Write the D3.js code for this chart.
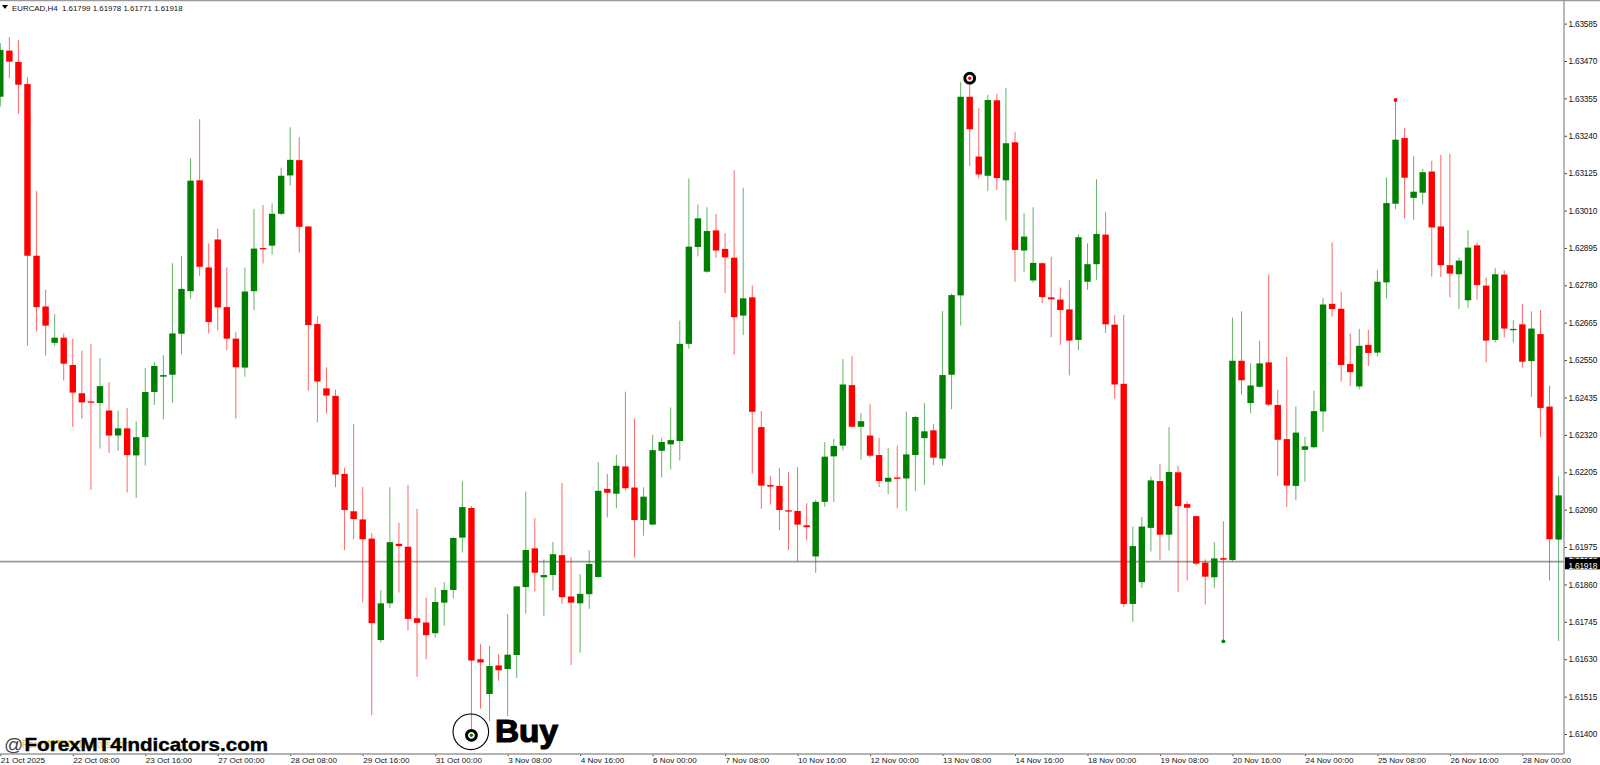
<!DOCTYPE html>
<html>
<head>
<meta charset="utf-8">
<title>EURCAD,H4</title>
<script src="https://cdn.jsdelivr.net/npm/d3@7"></script>
<style>
html, body { margin: 0; padding: 0; background: #fff; overflow: hidden; }
svg { display: block; }
text { font-family: "Liberation Sans", Arial, sans-serif; }
</style>
</head>
<body>
<div id="chart"></div>
<script>
// candles, oldest first
var opens = [
  1.63360,1.63502,1.63467,1.63399,1.62871,1.62715,1.62603,1.62619,1.62535,1.62448,
  1.62423,1.62418,1.62395,1.62318,1.62340,1.62257,1.62313,1.62452,1.62499,1.62505,
  1.62631,1.62762,1.63103,1.62835,1.62921,1.62713,1.62616,1.62527,1.62762,1.62895,
  1.62902,1.63000,1.63118,1.63165,1.62961,1.62661,1.62463,1.62440,1.62200,1.62085,
  1.62060,1.62001,1.61689,1.61802,1.61985,1.61976,1.61756,1.61743,1.61710,1.61804,
  1.61843,1.62004,1.62095,1.61630,1.61523,1.61611,1.61600,1.61643,1.61852,1.61971,
  1.61882,1.61889,1.61950,1.61823,1.61802,1.61830,1.61883,1.62154,1.62139,1.62223,
  1.62158,1.62058,1.62044,1.62271,1.62291,1.62301,1.62600,1.62898,1.62822,1.62949,
  1.62892,1.62865,1.62687,1.62743,1.62344,1.62166,1.62163,1.62088,1.62086,1.62042,
  1.61946,1.62114,1.62254,1.62287,1.62473,1.62345,1.62318,1.62258,1.62176,1.62189,
  1.62186,1.62258,1.62310,1.62334,1.62247,1.62505,1.62749,1.63360,1.63176,1.63117,
  1.63349,1.63103,1.63220,1.62887,1.62795,1.62848,1.62743,1.62736,1.62706,1.62612,
  1.62791,1.62845,1.62936,1.62659,1.62477,1.61800,1.61867,1.62034,1.62178,1.62013,
  1.62205,1.62107,1.62070,1.61927,1.61882,1.61941,1.61935,1.62548,1.62418,1.62468,
  1.62543,1.62412,1.62307,1.62163,1.62274,1.62282,1.62392,1.62723,1.62708,1.62538,
  1.62469,1.62597,1.62573,1.62789,1.63031,1.63233,1.63049,1.63065,1.63130,1.62961,
  1.62842,1.62814,1.62734,1.62903,1.62779,1.62612,1.62813,1.62644,1.62660,1.62547,
  1.62630,1.62407,1.61998
];
var highs = [
  1.63525,1.63543,1.63535,1.63420,1.63070,1.62766,1.62692,1.62632,1.62616,1.62579,
  1.62599,1.62556,1.62482,1.62395,1.62402,1.62362,1.62525,1.62544,1.62565,1.62848,
  1.62870,1.63171,1.63291,1.62909,1.62954,1.62835,1.62637,1.62835,1.63015,1.63027,
  1.63032,1.63142,1.63266,1.63236,1.62962,1.62685,1.62528,1.62459,1.62219,1.62354,
  1.62160,1.62018,1.61842,1.62159,1.62050,1.62166,1.62093,1.61820,1.61851,1.61867,
  1.62005,1.62177,1.62101,1.61676,1.61671,1.61646,1.61769,1.61854,1.62146,1.62064,
  1.61937,1.61991,1.62172,1.61944,1.61892,1.61965,1.62236,1.62200,1.62259,1.62453,
  1.62370,1.62159,1.62320,1.62311,1.62404,1.62671,1.63109,1.63029,1.63020,1.63000,
  1.62940,1.63134,1.63080,1.62780,1.62393,1.62194,1.62218,1.62205,1.62221,1.62110,
  1.62120,1.62297,1.62308,1.62553,1.62563,1.62387,1.62414,1.62311,1.62280,1.62287,
  1.62392,1.62379,1.62418,1.62353,1.62701,1.62755,1.63405,1.63417,1.63325,1.63366,
  1.63369,1.63387,1.63252,1.63002,1.63020,1.62853,1.62868,1.62773,1.62796,1.62937,
  1.62909,1.63106,1.63005,1.62688,1.62689,1.62038,1.62067,1.62192,1.62231,1.62344,
  1.62224,1.62115,1.62071,1.61937,1.61990,1.62054,1.62681,1.62700,1.62540,1.62609,
  1.62813,1.62459,1.62560,1.62407,1.62314,1.62456,1.62741,1.62912,1.62761,1.62632,
  1.62646,1.62643,1.62828,1.63112,1.63350,1.63264,1.63178,1.63138,1.63163,1.63181,
  1.63184,1.62865,1.62950,1.62912,1.62804,1.62833,1.62826,1.62673,1.62722,1.62700,
  1.62704,1.62471,1.62194
];
var lows = [
  1.63330,1.63417,1.63307,1.62595,1.62638,1.62564,1.62594,1.62487,1.62345,1.62370,
  1.62151,1.62278,1.62265,1.62271,1.62143,1.62126,1.62226,1.62412,1.62368,1.62419,
  1.62568,1.62739,1.62809,1.62632,1.62641,1.62580,1.62370,1.62499,1.62704,1.62847,
  1.62874,1.62996,1.63087,1.62881,1.62456,1.62359,1.62386,1.62159,1.61966,1.61999,
  1.61805,1.61458,1.61681,1.61787,1.61835,1.61718,1.61576,1.61630,1.61696,1.61733,
  1.61817,1.61958,1.61403,1.61478,1.61440,1.61564,1.61455,1.61572,1.61770,1.61838,
  1.61763,1.61841,1.61801,1.61612,1.61650,1.61785,1.61880,1.62066,1.62094,1.62149,
  1.61943,1.62010,1.62044,1.62189,1.62213,1.62241,1.62585,1.62869,1.62819,1.62864,
  1.62756,1.62567,1.62627,1.62201,1.62093,1.62106,1.62027,1.61966,1.61930,1.61997,
  1.61896,1.62099,1.62114,1.62272,1.62343,1.62244,1.62250,1.62159,1.62138,1.62094,
  1.62086,1.62147,1.62166,1.62227,1.62226,1.62399,1.62656,1.63147,1.63109,1.63070,
  1.63073,1.62979,1.62791,1.62820,1.62788,1.62725,1.62620,1.62597,1.62503,1.62580,
  1.62766,1.62797,1.62633,1.62431,1.61791,1.61745,1.61850,1.61961,1.61935,1.61964,
  1.61837,1.61872,1.61918,1.61798,1.61849,1.61685,1.61930,1.62444,1.62387,1.62465,
  1.62409,1.62194,1.62099,1.62119,1.62176,1.62278,1.62330,1.62684,1.62484,1.62471,
  1.62460,1.62532,1.62561,1.62740,1.63014,1.62986,1.62982,1.63029,1.62807,1.62805,
  1.62743,1.62708,1.62711,1.62736,1.62543,1.62604,1.62619,1.62604,1.62527,1.62437,
  1.62313,1.61872,1.61686
];
var closes = [
  1.63504,1.63468,1.63397,1.62871,1.62713,1.62656,1.62619,1.62539,1.62450,1.62420,
  1.62419,1.62470,1.62318,1.62340,1.62258,1.62313,1.62452,1.62532,1.62504,1.62632,
  1.62769,1.63102,1.62837,1.62667,1.62712,1.62616,1.62528,1.62761,1.62893,1.62892,
  1.63000,1.63117,1.63166,1.62960,1.62658,1.62484,1.62441,1.62198,1.62089,1.62061,
  1.61999,1.61741,1.61802,1.61990,1.61978,1.61754,1.61742,1.61704,1.61806,1.61843,
  1.62003,1.62098,1.61626,1.61620,1.61609,1.61596,1.61644,1.61854,1.61966,1.61896,
  1.61889,1.61953,1.61821,1.61804,1.61831,1.61923,1.62148,1.62142,1.62225,1.62156,
  1.62058,1.62130,1.62273,1.62298,1.62304,1.62600,1.62899,1.62986,1.62947,1.62887,
  1.62866,1.62682,1.62740,1.62391,1.62164,1.62161,1.62089,1.62086,1.62044,1.62036,
  1.62114,1.62253,1.62286,1.62475,1.62345,1.62362,1.62256,1.62178,1.62188,1.62187,
  1.62260,1.62375,1.62331,1.62250,1.62504,1.62750,1.63360,1.63260,1.63121,1.63350,
  1.63110,1.63217,1.62889,1.62930,1.62849,1.62744,1.62737,1.62704,1.62610,1.62928,
  1.62845,1.62938,1.62660,1.62475,1.61800,1.61978,1.62038,1.62180,1.62013,1.62206,
  1.62101,1.62096,1.61924,1.61884,1.61940,1.61936,1.62548,1.62488,1.62472,1.62540,
  1.62413,1.62305,1.62164,1.62327,1.62285,1.62393,1.62721,1.62707,1.62535,1.62513,
  1.62594,1.62572,1.62791,1.63033,1.63228,1.63111,1.63068,1.63128,1.62958,1.62842,
  1.62816,1.62856,1.62896,1.62781,1.62610,1.62814,1.62647,1.62646,1.62545,1.62647,
  1.62403,1.61999,1.62134
];

var priceTicks = [
  1.61400,1.61515,1.61630,1.61745,1.61860,1.61975,1.62090,1.62205,1.62320,1.62435,
  1.62550,1.62665,1.62780,1.62895,1.63010,1.63125,1.63240,1.63355,1.63470,1.63585
];
var timeLabels = [
  "21 Oct 2025","22 Oct 08:00","23 Oct 16:00","27 Oct 00:00","28 Oct 08:00","29 Oct 16:00",
  "31 Oct 00:00","3 Nov 08:00","4 Nov 16:00","6 Nov 00:00","7 Nov 08:00","10 Nov 16:00",
  "12 Nov 00:00","13 Nov 08:00","14 Nov 16:00","18 Nov 00:00","19 Nov 08:00","20 Nov 16:00",
  "24 Nov 00:00","25 Nov 08:00","26 Nov 16:00","28 Nov 00:00"
];
var labelEvery = 8; // one time label per 8 bars

var header = "EURCAD,H4  1.61799 1.61978 1.61771 1.61918";
var bidLine = 1.61930;
var bidLabel = 1.61918;

// indicator arrows: [bar index, price]
var dots = [[135, 1.61685, "#008000"], [154, 1.63350, "#ff0000"]];
var rings = [[52, 1.61396, "#008000"], [107, 1.63417, "#ff0000"]];

var w = 1600;
var h = 765;
var axisX = 1564;
var axisY = 754;

var green = "#008000";
var red = "#ff0000";
var bodyWidth = 6.4;

var x = d3.scaleLinear().domain([0, opens.length - 1]).range([0.3, 1558.6]);
var y = d3.scaleLinear().domain([1.61400, 1.63585]).range([734, 23.6]);

var svg = d3.select("#chart").append("svg")
    .attr("width", w)
    .attr("height", h);

svg.append("rect")
    .attr("width", w)
    .attr("height", h)
    .attr("fill", "#fff");

// bid line goes under the candles
svg.append("line")
    .attr("x1", 0)
    .attr("x2", axisX)
    .attr("y1", y(bidLine))
    .attr("y2", y(bidLine))
    .attr("stroke", "#999")
    .attr("stroke-width", 1.7);

var candle = svg.append("g")
    .selectAll("g")
    .data(d3.range(opens.length))
    .enter().append("g");

function candleColor(i) {
    return closes[i] >= opens[i] ? green : red;
}

candle.append("line")
    .attr("x1", function(i) { return x(i); })
    .attr("x2", function(i) { return x(i); })
    .attr("y1", function(i) { return y(highs[i]); })
    .attr("y2", function(i) { return y(lows[i]); })
    .attr("stroke", candleColor)
    .attr("stroke-opacity", 0.6)
    .attr("stroke-width", 1);

candle.append("rect")
    .attr("x", function(i) { return x(i) - bodyWidth / 2; })
    .attr("width", bodyWidth)
    .attr("y", function(i) { return y(Math.max(opens[i], closes[i])); })
    .attr("height", function(i) { return Math.max(1.3, Math.abs(y(opens[i]) - y(closes[i]))); })
    .attr("fill", candleColor);

// small arrow dots
svg.append("g")
    .selectAll("circle")
    .data(dots)
    .enter().append("circle")
    .attr("cx", function(d) { return x(d[0]); })
    .attr("cy", function(d) { return y(d[1]); })
    .attr("r", 1.9)
    .attr("fill", function(d) { return d[2]; });

// ring arrows
var ring = svg.append("g")
    .selectAll("g")
    .data(rings)
    .enter().append("g")
    .attr("transform", function(d) { return "translate(" + x(d[0]) + "," + y(d[1]) + ")"; });

ring.append("circle")
    .attr("r", 4.9)
    .attr("fill", "#fff")
    .attr("stroke", "#000")
    .attr("stroke-width", 3);

ring.append("circle")
    .attr("r", 1.7)
    .attr("fill", function(d) { return d[2]; });

// hand drawn circle round the buy arrow
svg.append("circle")
    .attr("cx", x(rings[0][0]) - 0.6)
    .attr("cy", y(rings[0][1]) - 3.5)
    .attr("r", 17.8)
    .attr("fill", "none")
    .attr("stroke", "#000")
    .attr("stroke-width", 1.1);

svg.append("text")
    .attr("x", 495)
    .attr("y", 741.7)
    .attr("font-size", 31)
    .attr("font-weight", "bold")
    .attr("stroke", "#000")
    .attr("stroke-width", 1.2)
    .attr("textLength", 63)
    .attr("lengthAdjust", "spacingAndGlyphs")
    .text("Buy");

// axes
var yAxis = d3.axisRight(y)
    .tickValues(priceTicks)
    .tickSize(3)
    .tickPadding(1.5)
    .tickFormat(d3.format(".5f"));

var gy = svg.append("g")
    .attr("transform", "translate(" + axisX + ",0)")
    .call(yAxis);

var xAxis = d3.axisBottom(x)
    .tickValues(d3.range(0, timeLabels.length * labelEvery, labelEvery))
    .tickSize(2)
    .tickPadding(1)
    .tickFormat(function(d, i) { return timeLabels[i]; });

var gx = svg.append("g")
    .attr("transform", "translate(0," + axisY + ")")
    .call(xAxis);

gy.selectAll(".domain").remove();
gx.selectAll(".domain").remove();

svg.append("line")
    .attr("x1", axisX).attr("x2", axisX)
    .attr("y1", 0).attr("y2", axisY)
    .attr("stroke", "#9a9a9a").attr("stroke-width", 1.4);
svg.append("line")
    .attr("x1", 0).attr("x2", axisX)
    .attr("y1", axisY).attr("y2", axisY)
    .attr("stroke", "#9a9a9a").attr("stroke-width", 1.4);
svg.append("line")
    .attr("x1", 0).attr("x2", w)
    .attr("y1", 0.6).attr("y2", 0.6)
    .attr("stroke", "#9a9a9a").attr("stroke-width", 1.4);

gy.selectAll("text").attr("font-size", 8.3).attr("fill", "#111")
    .attr("letter-spacing", -0.2)
    .style("font-family", "'Liberation Sans', Arial, sans-serif");
gx.selectAll("text").attr("font-size", 8.1).attr("fill", "#111")
    .attr("text-anchor", "start")
    .style("font-family", "'Liberation Sans', Arial, sans-serif");
gy.selectAll("line").attr("stroke", "#444");
gx.selectAll("line").attr("stroke", "#444");

// bid price box
var boxTop = y(bidLabel) - 8.3;
var defs = svg.append("defs");
defs.append("clipPath").attr("id", "bidClip")
    .append("rect")
    .attr("x", axisX + 1)
    .attr("y", boxTop)
    .attr("width", w - axisX - 1)
    .attr("height", 3);

svg.append("rect")
    .attr("x", axisX + 1)
    .attr("y", boxTop)
    .attr("width", w - axisX - 1)
    .attr("height", 12)
    .attr("fill", "#000");

svg.append("text")
    .attr("x", axisX + 4.5)
    .attr("y", y(bidLabel) - 6.3)
    .attr("font-size", 8.3)
    .attr("letter-spacing", -0.2)
    .attr("fill", "#fff")
    .attr("clip-path", "url(#bidClip)")
    .text(d3.format(".5f")(bidLabel));

svg.append("text")
    .attr("x", axisX + 4.5)
    .attr("y", y(bidLabel) + 3)
    .attr("font-size", 8.3)
    .attr("letter-spacing", -0.2)
    .attr("fill", "#fff")
    .text(d3.format(".5f")(bidLabel));

// chart header
svg.append("path")
    .attr("d", d3.line()([[2, 5], [8, 5], [5, 9]]) + "Z")
    .attr("fill", "#000");

svg.append("text")
    .attr("x", 12)
    .attr("y", 10.5)
    .attr("font-size", 7.9)
    .attr("fill", "#111")
    .attr("xml:space", "preserve")
    .style("white-space", "pre")
    .text(header);

// watermark
svg.append("text")
    .attr("x", 22)
    .attr("y", 748)
    .attr("font-size", 10)
    .attr("fill", "#e6c34a")
    .text("ForexMT4Indicators.com");

svg.append("text")
    .attr("x", 4)
    .attr("y", 751)
    .attr("font-size", 19)
    .attr("fill", "#444")
    .text("@");

svg.append("text")
    .attr("x", 24.5)
    .attr("y", 751)
    .attr("font-size", 19)
    .attr("font-weight", "bold")
    .attr("fill", "#000")
    .attr("stroke", "#000")
    .attr("stroke-width", 0.4)
    .attr("textLength", 243.5)
    .attr("lengthAdjust", "spacingAndGlyphs")
    .text("ForexMT4Indicators.com");
</script>
</body>
</html>
